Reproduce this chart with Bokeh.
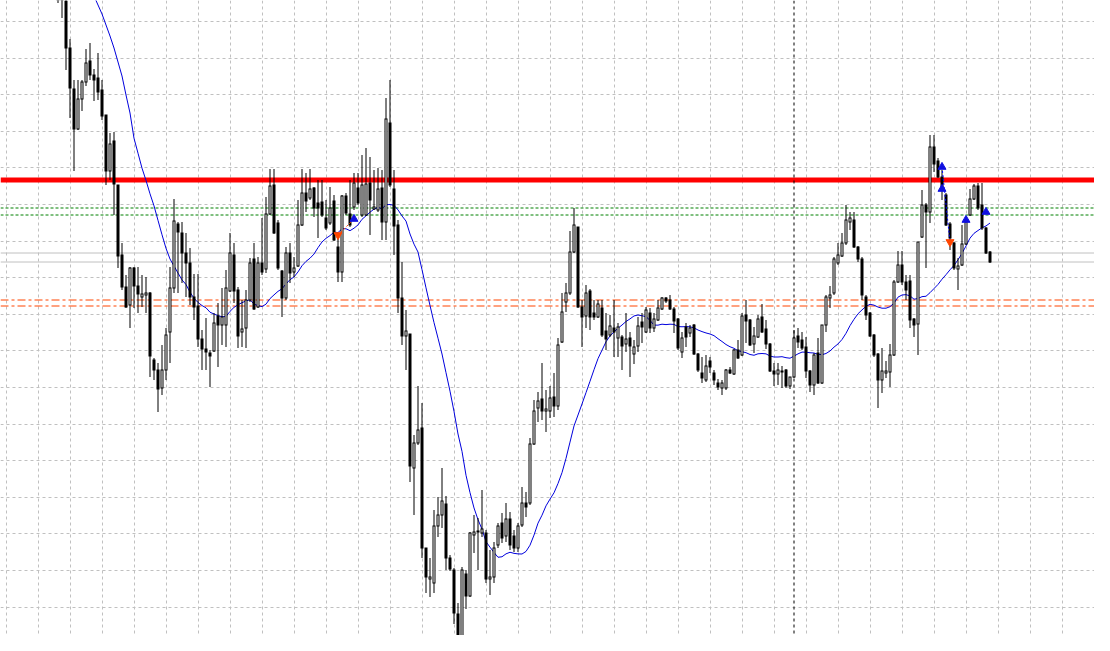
import numpy as np
import pandas as pd
from bokeh.plotting import figure
from bokeh.models import Range1d, Span, Grid, FixedTicker, ColumnDataSource
from bokeh.embed import file_html
from bokeh.resources import INLINE

# Price levels are chart points measured downward from the top of the chart
# (higher price -> smaller number); the y axis is flipped accordingly.
first_bar = -1

opens = [-35, -25, -8, 48, 89, 129, 99, 82, 61, 75,
         78, 90, 115, 171, 141, 185, 255, 287, 305, 268,
         286, 297, 295, 293, 360, 370, 388, 370, 332, 288,
         224, 233, 253, 263, 297, 306, 339, 349, 353, 351,
         316, 325, 325, 291, 255, 290, 332, 328, 300, 259,
         307, 263, 269, 214, 185, 223, 271, 298, 253, 272,
         266, 225, 193, 198, 188, 203, 202, 218, 223, 201,
         247, 272, 196, 214, 207, 188, 215, 215, 183, 209,
         210, 188, 222, 123, 189, 225, 298, 336, 334, 468,
         443, 428, 548, 579, 583, 526, 515, 504, 558, 570,
         614, 637, 574, 596, 535, 532, 533, 533, 579, 577,
         545, 523, 536, 519, 536, 548, 525, 503, 503, 444,
         408, 399, 411, 411, 397, 406, 342, 302, 293, 252,
         227, 307, 316, 291, 313, 317, 308, 331, 335, 328,
         338, 337, 344, 338, 354, 346, 322, 332, 313, 328,
         320, 309, 298, 300, 309, 319, 352, 327, 333, 325,
         354, 373, 380, 361, 373, 383, 388, 388, 370, 374,
         350, 355, 315, 320, 344, 337, 317, 329, 344, 371,
         374, 371, 370, 386, 377, 336, 340, 347, 371, 385,
         353, 383, 325, 298, 293, 263, 256, 243, 222, 220,
         247, 259, 297, 313, 335, 354, 380, 373, 372, 355,
         282, 265, 282, 281, 319, 324, 237, 205, 212, 147,
         161, 177, 195, 224, 243, 269, 265, 244, 215, 199,
         186, 205, 228, 252]

highs = [-45, -30, -15, 39, 80, 80, 80, 49, 43, 69,
         53, 80, 115, 133, 132, 185, 243, 275, 267, 267,
         267, 275, 277, 292, 358, 363, 345, 328, 267, 199,
         222, 222, 233, 248, 274, 274, 330, 318, 350, 313,
         303, 288, 270, 233, 243, 287, 300, 290, 258, 243,
         257, 218, 197, 169, 169, 220, 270, 247, 243, 257,
         200, 169, 173, 169, 187, 180, 180, 200, 187, 195,
         235, 195, 193, 180, 173, 173, 155, 148, 157, 170,
         168, 170, 98, 80, 170, 220, 262, 310, 334, 435,
         386, 403, 548, 558, 510, 497, 468, 496, 555, 568,
         603, 567, 570, 532, 515, 518, 490, 530, 550, 542,
         523, 513, 503, 512, 530, 523, 487, 492, 438, 400,
         392, 363, 390, 386, 373, 338, 293, 283, 231, 208,
         227, 300, 285, 289, 300, 300, 300, 313, 315, 300,
         323, 335, 313, 332, 340, 317, 313, 307, 308, 313,
         300, 297, 297, 295, 307, 318, 332, 323, 325, 324,
         353, 357, 355, 357, 370, 379, 380, 369, 367, 349,
         340, 313, 300, 319, 327, 315, 304, 320, 343, 363,
         363, 366, 369, 377, 330, 328, 332, 337, 370, 353,
         338, 325, 295, 286, 257, 243, 233, 205, 212, 212,
         246, 257, 295, 312, 334, 353, 348, 361, 344, 280,
         251, 251, 275, 275, 318, 242, 190, 203, 135, 135,
         158, 170, 193, 222, 242, 258, 225, 218, 189, 184,
         183, 183, 227, 251]

lows = [3, 18, 70, 118, 171, 130, 111, 86, 80, 101,
        100, 120, 185, 180, 215, 268, 290, 308, 328, 308,
        313, 307, 313, 377, 380, 412, 395, 380, 363, 293,
        293, 283, 297, 305, 320, 347, 370, 370, 387, 352,
        367, 345, 347, 292, 303, 348, 347, 348, 302, 310,
        308, 275, 273, 215, 234, 270, 317, 300, 283, 277,
        267, 226, 212, 200, 217, 238, 217, 230, 225, 241,
        282, 282, 215, 227, 210, 205, 217, 216, 235, 210,
        212, 240, 240, 187, 255, 313, 345, 370, 482, 515,
        445, 558, 593, 597, 593, 537, 528, 570, 571, 624,
        645, 650, 609, 597, 553, 570, 537, 583, 595, 583,
        548, 543, 542, 550, 552, 552, 527, 517, 505, 445,
        422, 420, 432, 418, 417, 410, 343, 312, 295, 253,
        308, 347, 328, 330, 320, 318, 337, 350, 337, 357,
        357, 370, 352, 377, 364, 352, 343, 333, 333, 332,
        321, 310, 303, 310, 333, 350, 358, 347, 337, 355,
        372, 383, 382, 373, 385, 390, 395, 390, 374, 375,
        359, 356, 343, 346, 353, 338, 333, 349, 372, 386,
        385, 388, 388, 389, 378, 348, 350, 378, 392, 395,
        384, 384, 332, 308, 295, 265, 257, 245, 230, 248,
        262, 300, 320, 337, 357, 408, 393, 378, 387, 356,
        283, 285, 300, 328, 337, 355, 238, 268, 223, 172,
        178, 200, 226, 250, 270, 290, 266, 245, 216, 200,
        210, 230, 254, 263]

closes = [-5, -5, 48, 88, 129, 99, 82, 63, 75, 80,
          92, 116, 171, 144, 184, 256, 287, 307, 268, 286,
          294, 294, 293, 356, 370, 389, 370, 335, 288, 221,
          232, 253, 263, 297, 307, 339, 349, 352, 356, 323,
          325, 317, 288, 253, 291, 336, 329, 300, 263, 309,
          263, 272, 214, 186, 233, 268, 298, 253, 273, 268,
          225, 193, 201, 189, 208, 208, 215, 228, 208, 240,
          272, 196, 213, 225, 183, 203, 185, 184, 200, 207,
          189, 222, 119, 185, 226, 298, 336, 331, 466, 443,
          430, 548, 577, 577, 526, 515, 501, 558, 569, 613,
          640, 570, 596, 533, 532, 531, 529, 579, 577, 548,
          526, 538, 519, 545, 548, 526, 503, 507, 444, 411,
          401, 411, 409, 398, 406, 345, 312, 293, 252, 225,
          307, 317, 293, 317, 317, 304, 335, 339, 326, 332,
          327, 346, 339, 346, 347, 326, 327, 310, 328, 319,
          308, 298, 301, 309, 321, 348, 338, 337, 328, 354,
          370, 378, 366, 367, 380, 387, 383, 370, 373, 350,
          358, 316, 321, 345, 336, 319, 332, 344, 371, 374,
          370, 372, 386, 377, 338, 342, 348, 371, 385, 355,
          383, 325, 297, 295, 259, 255, 243, 220, 218, 247,
          259, 295, 315, 336, 355, 380, 371, 371, 355, 282,
          265, 282, 290, 320, 325, 242, 205, 212, 147, 164,
          177, 190, 225, 238, 268, 266, 244, 222, 199, 186,
          208, 228, 253, 262]

ma_head_start = 7
ma_head = [-15, -4, 5, 14, 25, 36, 48, 62, 76, 95, 113, 132]
ma_period = 20

# Horizontal levels
red_level = [180]
green_levels = [208, 215]
gray_levels = [253, 262]
orange_levels = [300, 306]
separator_bar = [183]

# Trade arrows
buy_bars = [73, 220, 220, 226, 231]
buy_px = [219, 167, 189, 220, 212]
sell_bars = [69, 222]
sell_px = [235, 242]
trade_lines = [((69, 235), (73, 219), "#FF4500"), ((220, 167), (222, 242), "#0000FF")]

# ------------------------------------------------------------------
o = np.array(opens, float)
h = np.array(highs, float)
l = np.array(lows, float)
c = np.array(closes, float)
x = np.arange(first_bar, first_bar + len(o))
top = np.minimum(o, c)
bot = np.maximum(o, c)
hi = np.minimum(h, top)
lo = np.maximum(l, bot)
bull = c <= o

sma = pd.Series(c).rolling(ma_period).mean().to_numpy()
ma = np.full(len(c), np.nan)
start_k = ma_head_start - first_bar
ma[start_k:start_k + len(ma_head)] = ma_head
valid = ~np.isnan(sma)
ma[valid] = sma[valid]

W, H = 1094, 635
BAR_PX = 4.0
X0 = -61.5 / BAR_PX
p = figure(width=W, height=H, output_backend="svg", toolbar_location=None,
           x_range=Range1d(X0, X0 + W / BAR_PX),
           y_range=Range1d(H + 0.5, 0.5),
           x_axis_location=None, y_axis_location=None,
           min_border=0, outline_line_color=None,
           background_fill_color="white", border_fill_color="white")
p.grid.visible = False

xticks = list(np.arange(-14, 262, 8))
yticks = [int(round(v)) for v in 21 + 36.6 * np.arange(18)]
for dim, ticks in ((0, xticks), (1, yticks)):
    g = Grid(dimension=dim, ticker=FixedTicker(ticks=ticks),
             grid_line_color="#C0C0C0", grid_line_dash="3 3", grid_line_width=1)
    p.add_layout(g, "center")

def hline(loc, color, width, dash="solid"):
    p.add_layout(Span(location=loc, dimension="width", line_color=color,
                      line_width=width, line_dash=dash, level="underlay"))

for v in gray_levels:
    hline(v, "#C0C0C0", 1)
for v in orange_levels:
    hline(v, "#FF4500", 1, "8 3 3 3")
for v in green_levels:
    hline(v, "#008000", 1, "3 2")
for v in red_level:
    hline(v, "#FF0000", 5)
for v in separator_bar:
    p.add_layout(Span(location=v, dimension="height", line_color="black",
                      line_width=1, line_dash="3 3", level="underlay"))

# moving average
p.line(x, ma, line_color="#0000DD", line_width=1)

# candles: wick, solid black body (3 px), hollow interior for rising bars
src = ColumnDataSource(dict(x=x, hi=hi, lo=lo, top=top - 0.5, bot=bot + 0.5))
p.segment(x0="x", y0="hi", x1="x", y1="lo", source=src, line_color="black", line_width=1)
p.vbar(x="x", top="top", bottom="bot", width=0.75, source=src,
       fill_color="black", line_color=None)
hollow = bull & (bot - top >= 2)
src_w = ColumnDataSource(dict(x=x[hollow], top=top[hollow] + 0.5, bot=bot[hollow] - 0.5))
p.vbar(x="x", top="top", bottom="bot", width=0.25, source=src_w,
       fill_color="white", line_color=None)

# trade lines and arrows
for (x0, y0), (x1, y1), col in trade_lines:
    p.segment(x0=[x0], y0=[y0], x1=[x1], y1=[y1], line_color=col,
              line_width=1, line_dash="2 2")
p.scatter(buy_bars, buy_px, marker="triangle", size=8, fill_color="#1010E0",
          line_color="#1010E0")
p.scatter(sell_bars, sell_px, marker="inverted_triangle", size=8, fill_color="#FF4500",
          line_color="#FF4500")

open("out.html", "w").write(file_html(p, INLINE))
